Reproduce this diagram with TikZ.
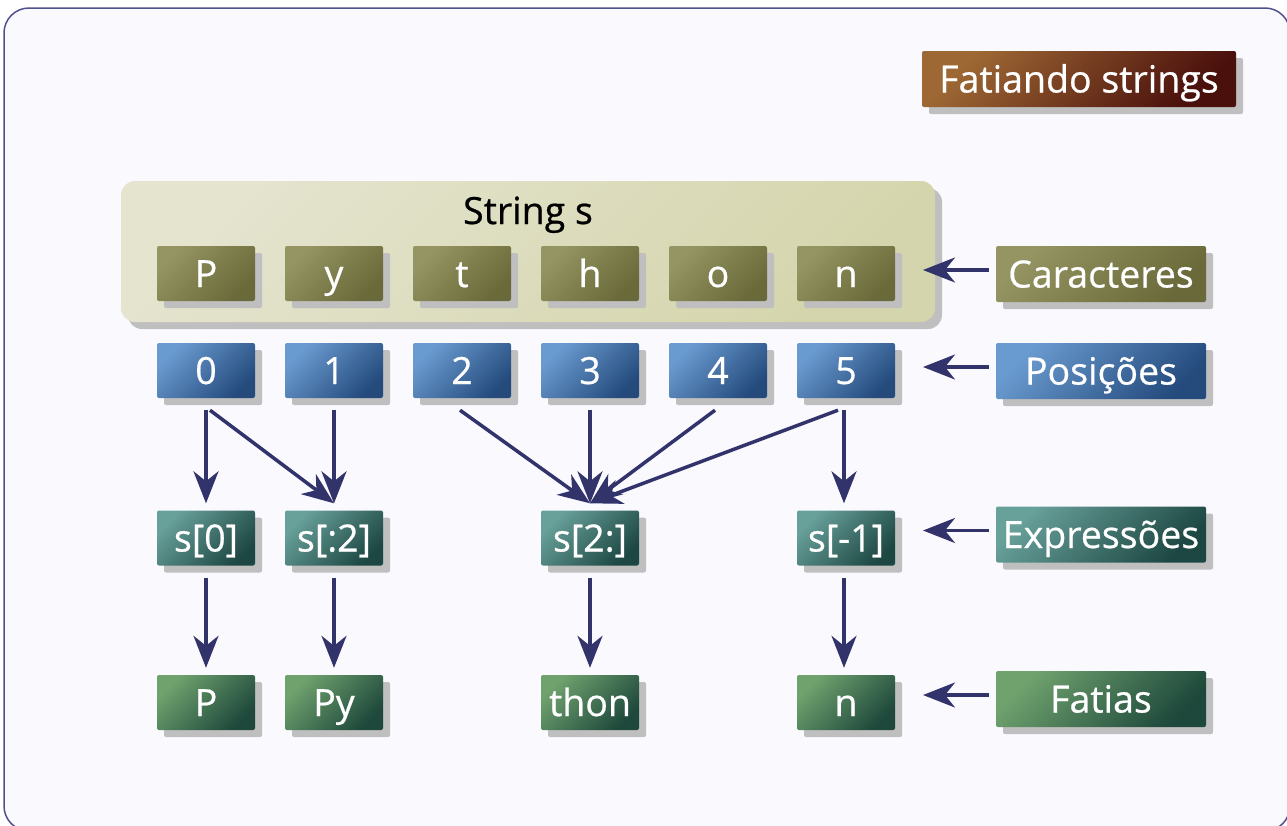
\documentclass[tikz,border=0pt]{standalone}
\usepackage{fontspec}
\setmainfont{Open Sans}
\newfontfamily\boxfont{Open Sans}[FakeBold=0.6]
\usetikzlibrary{arrows.meta,shadows}
\definecolor{bg}{HTML}{F9F9FE}
\definecolor{frm}{HTML}{50508C}
\definecolor{arrc}{HTML}{33336B}
\definecolor{shd}{HTML}{BFBFBF}
\definecolor{olA}{HTML}{959563}
\definecolor{olB}{HTML}{696939}
\definecolor{blA}{HTML}{6A9BD0}
\definecolor{blB}{HTML}{254B7D}
\definecolor{tlA}{HTML}{68A09A}
\definecolor{tlB}{HTML}{1D4742}
\definecolor{gnA}{HTML}{70A26E}
\definecolor{gnB}{HTML}{1D483B}
\definecolor{brA}{HTML}{9E6834}
\definecolor{brB}{HTML}{4A100C}
\definecolor{grA}{HTML}{E4E4CF}
\definecolor{grB}{HTML}{D5D5AD}
\tikzset{
  tbox/.style={rectangle, rounded corners=2pt, minimum width=98pt, minimum height=55pt,
    inner sep=0pt, text=white, font=\boxfont\fontsize{37.5}{37.5}\selectfont,
    text height=27pt, text depth=0pt,
    drop shadow={shadow xshift=7pt, shadow yshift=-7pt, fill=shd, opacity=1}},
  olivebox/.style={tbox, top color=olA, bottom color=olB, shading angle=45},
  bluebox/.style={tbox, top color=blA, bottom color=blB, shading angle=45},
  tealbox/.style={tbox, top color=tlA, bottom color=tlB, shading angle=45},
  greenbox/.style={tbox, top color=gnA, bottom color=gnB, shading angle=45},
  brownbox/.style={tbox, top color=brA, bottom color=brB, shading angle=45},
  wide/.style={minimum width=210pt, minimum height=56pt},
  groupbox/.style={rectangle, rounded corners=14pt, minimum width=814pt, minimum height=141pt,
    top color=grA, bottom color=grB, shading angle=45,
    drop shadow={shadow xshift=7pt, shadow yshift=-7pt, fill=shd, opacity=1}},
  arr/.style={draw=arrc, line width=3.5pt, -{Stealth[length=32pt, width=25pt, inset=10pt]}},
  lbl/.style={text=black, font=\boxfont\fontsize{37.5}{37.5}\selectfont, inner sep=0pt,
    text height=27pt, text depth=0pt}
}
\begin{document}
\begin{tikzpicture}[x=1pt,y=-1pt]
\useasboundingbox (0,0) rectangle (1287,825);
\fill[white] (0,0) rectangle (1287,825);
\draw[draw=frm, line width=1.5pt, fill=bg, rounded corners=25pt] (4,8) rectangle (1290,831);

% title
\node[brownbox, minimum width=314pt, minimum height=56pt] (title) at (1079,79) {Fatiando strings};

% group
\node[groupbox] (grp) at (528,251.5) {};
\node[lbl] (gl) at (528,210.5) {String s};

% characters
\node[olivebox] (c0) at (206,273.5) {P};
\node[olivebox] (c1) at (334,273.5) {y};
\node[olivebox] (c2) at (462,273.5) {t};
\node[olivebox] (c3) at (590,273.5) {h};
\node[olivebox] (c4) at (718,273.5) {o};
\node[olivebox] (c5) at (846,273.5) {n};

% positions
\node[bluebox] (p0) at (206,370.5) {0};
\node[bluebox] (p1) at (334,370.5) {1};
\node[bluebox] (p2) at (462,370.5) {2};
\node[bluebox] (p3) at (590,370.5) {3};
\node[bluebox] (p4) at (718,370.5) {4};
\node[bluebox] (p5) at (846,370.5) {5};

% expressions
\node[tealbox] (e0) at (206,538) {s[0]};
\node[tealbox] (e1) at (334,538) {s[:2]};
\node[tealbox] (e2) at (590,538) {s[2:]};
\node[tealbox] (e3) at (846,538) {s[-1]};

% slices
\node[greenbox] (f0) at (206,702.5) {P};
\node[greenbox] (f1) at (334,702.5) {Py};
\node[greenbox] (f2) at (590,702.5) {thon};
\node[greenbox] (f3) at (846,702.5) {n};

% right labels
\node[olivebox, wide] (lc) at (1101,274) {Caracteres};
\node[bluebox, wide] (lp) at (1101,371) {Posições};
\node[tealbox, wide] (le) at (1101,534.5) {Expressões};
\node[greenbox, wide] (lf) at (1101,699) {Fatias};

\coordinate (tc) at (923,270);
\coordinate (tp) at (923,367);
\coordinate (te) at (923,530.5);
\coordinate (tf) at (923,695);

% arrows positions -> expressions
\draw[arr] ([yshift=-12pt]p0.south) -- ([yshift=7pt]e0.north);
\draw[arr] ([xshift=4pt,yshift=-12pt]p0.south) -- ([yshift=7pt]e1.north);
\draw[arr] ([yshift=-12pt]p1.south) -- ([yshift=7pt]e1.north);
\draw[arr] ([xshift=-2pt,yshift=-12pt]p2.south) -- ([yshift=7pt]e2.north);
\draw[arr] ([yshift=-12pt]p3.south) -- ([yshift=7pt]e2.north);
\draw[arr] ([xshift=-3pt,yshift=-12pt]p4.south) -- ([yshift=7pt]e2.north);
\draw[arr] ([xshift=-8pt,yshift=-12pt]p5.south) -- ([yshift=7pt]e2.north);
\draw[arr] ([xshift=-2pt,yshift=-12pt]p5.south) -- ([xshift=-2pt,yshift=7pt]e3.north);

% arrows expressions -> slices
\draw[arr] ([yshift=-12pt]e0.south) -- ([yshift=7pt]f0.north);
\draw[arr] ([yshift=-12pt]e1.south) -- ([yshift=7pt]f1.north);
\draw[arr] ([yshift=-12pt]e2.south) -- ([yshift=7pt]f2.north);
\draw[arr] ([xshift=-2pt,yshift=-12pt]e3.south) -- ([xshift=-2pt,yshift=7pt]f3.north);

% label arrows
\draw[arr] ([xshift=-7pt,yshift=4pt]lc.west) -- (tc);
\draw[arr] ([xshift=-7pt,yshift=4pt]lp.west) -- (tp);
\draw[arr] ([xshift=-7pt,yshift=4pt]le.west) -- (te);
\draw[arr] ([xshift=-7pt,yshift=4pt]lf.west) -- (tf);
\end{tikzpicture}
\end{document}
